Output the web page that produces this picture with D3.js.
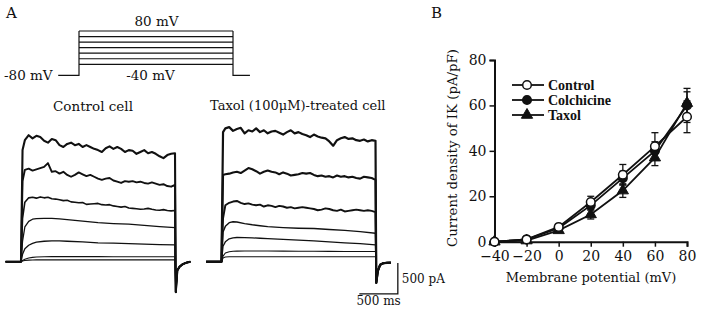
<!DOCTYPE html>
<html>
<head>
<meta charset="utf-8">
<script src="https://cdn.jsdelivr.net/npm/d3@7"></script>
<style>
  html, body { margin: 0; padding: 0; background: #fff; }
  svg text { font-family: "DejaVu Serif", serif; fill: #111; }
  svg text.legend { font-family: "Liberation Serif", "Times New Roman", serif; font-weight: bold; }
</style>
</head>
<body>
<svg id="fig" width="701" height="314"></svg>
<script>
// ---- panel A: voltage protocol ----
const STEP_MV = [-40, -20, 0, 20, 40, 60, 80];
const HOLD_MV = -80;

// ---- panel A: current traces (pA) ----
const T_FINE = [0, 20, 50, 100, 150, 200, 250, 300, 350, 400, 450, 500, 550, 600, 650, 700, 750, 800, 850, 900, 950,
  1000, 1050, 1100, 1150, 1200, 1250, 1300, 1350, 1400, 1450, 1500, 1550, 1600, 1650, 1700, 1750, 1800, 1850, 1900, 1950, 2000];
const T_COARSE = [0, 20, 50, 100, 150, 200, 300, 400, 500, 600, 800, 1000, 1200, 1400, 1600, 1800, 2000];

const CTRL_80 = [0, 1800, 1960, 2040, 1990, 2030, 2010, 1950, 1920, 1980, 1960, 1880, 1850, 1900, 1920, 1880, 1900, 1850, 1880, 1850, 1820,
  1800, 1770, 1830, 1860, 1820, 1850, 1820, 1770, 1800, 1790, 1740, 1770, 1800, 1750, 1770, 1740, 1700, 1670, 1720, 1740, 1750];
const CTRL_60 = [0, 1300, 1480, 1500, 1470, 1490, 1510, 1530, 1590, 1450, 1460, 1420, 1450, 1400, 1370, 1400, 1440, 1410, 1380, 1400, 1370,
  1340, 1320, 1340, 1350, 1310, 1290, 1270, 1300, 1290, 1300, 1280, 1290, 1270, 1260, 1280, 1260, 1240, 1250, 1220, 1210, 1240];
const CTRL_40 = [0, 700, 960, 1030, 1040, 1025, 1045, 1030, 1040, 1015, 1010, 1000, 985, 990, 965, 960, 950, 955, 925, 930, 935,
  940, 920, 915, 920, 900, 890, 880, 890, 865, 860, 855, 845, 850, 860, 845, 835, 830, 840, 825, 820, 825];
const CTRL_20 = [0, 330, 560, 650, 685, 695, 700, 700, 690, 680, 655, 630, 615, 605, 585, 565, 550];
const CTRL_0 = [0, 120, 210, 265, 295, 315, 330, 335, 335, 330, 320, 305, 300, 290, 285, 275, 270];
const CTRL_M20 = [0, 20, 40, 60, 70, 75, 80, 82, 82, 82, 82, 82, 80, 80, 80, 80, 80];
const CTRL_M40 = [0, 10, 20, 25, 28, 30, 30, 30, 30, 30, 30, 30, 30, 30, 30, 30, 30];

const TAX_80 = [0, 2090, 2150, 2170, 2110, 2140, 2160, 2070, 2120, 2100, 2150, 2090, 2120, 2070, 2100, 2110, 2080, 2050, 2090, 2120, 2070,
  2090, 2060, 2040, 2010, 2050, 2020, 2000, 1990, 1940, 1870, 1960, 1990, 2010, 1980, 1990, 1960, 1950, 1970, 1940, 1960, 1950];
const TAX_60 = [0, 1400, 1410, 1420, 1440, 1450, 1430, 1470, 1510, 1490, 1460, 1420, 1450, 1470, 1450, 1440, 1410, 1440, 1420, 1390, 1400,
  1410, 1430, 1420, 1430, 1400, 1380, 1390, 1370, 1380, 1360, 1390, 1370, 1380, 1360, 1370, 1350, 1340, 1370, 1360, 1350, 1320];
const TAX_40 = [0, 700, 910, 950, 970, 980, 950, 930, 940, 920, 910, 920, 890, 910, 900, 880, 900, 890, 870, 880, 860,
  870, 880, 870, 860, 850, 830, 840, 860, 850, 830, 820, 840, 810, 820, 830, 840, 830, 820, 830, 820, 800];
const TAX_20 = [0, 480, 570, 630, 645, 640, 615, 595, 580, 565, 550, 540, 535, 520, 505, 485, 460];
const TAX_0 = [0, 250, 320, 370, 385, 390, 388, 385, 378, 372, 360, 348, 335, 320, 305, 290, 270];
const TAX_M20 = [0, 90, 140, 160, 168, 170, 172, 172, 172, 172, 170, 168, 168, 166, 165, 165, 165];
const TAX_M40 = [0, 60, 75, 80, 80, 80, 80, 80, 80, 80, 80, 80, 80, 80, 80, 80, 80];

// tail currents after the step
const TAIL_T = [2010, 2030, 2060, 2100, 2150, 2200];
const CTRL_TAIL = [-490, -140, -80, -40, -15, 0];
const TAX_TAIL = [-340, -150, -50, -25, -18, -15];

// ---- panel B: I-V relation ----
const VM = [-40, -20, 0, 20, 40, 60, 80];
const CONTROL_MEAN = [0, 1, 6.5, 17.5, 29.5, 42, 55];
const CONTROL_SEM = [0, 0.5, 1, 2.5, 4.5, 6, 7];
const COLCH_MEAN = [0, 1, 6, 16, 28, 40, 60];
const COLCH_SEM = [0, 0.5, 1, 2, 3, 4, 7.5];
const TAXOL_MEAN = [0, 0.5, 5, 12, 22.5, 37, 61];
const TAXOL_SEM = [0, 0.5, 1, 2, 3, 3.5, 5];
const Y_TICKS = [0, 20, 40, 60, 80];
const X_TICKS = [-40, -20, 0, 20, 40, 60, 80];

const svg = d3.select('#fig');
svg.append('rect').attr('width', 701).attr('height', 314).attr('fill', '#fff');

// panel letters
svg.append('text').attr('x', 6).attr('y', 18).style('font-size', '15px').text('A');
svg.append('text').attr('x', 431).attr('y', 18).style('font-size', '15px').text('B');

// ---------- protocol ----------
const px = d3.scaleLinear().domain([0, 2000]).range([79, 233]);
const pv = d3.scaleLinear().domain([-40, 80]).range([64.3, 31]);
const proto = svg.append('g').attr('stroke', '#111').attr('fill', 'none').attr('stroke-width', 1.2);
STEP_MV.forEach(v => {
  proto.append('line').attr('x1', px(0)).attr('x2', px(2000)).attr('y1', pv(v)).attr('y2', pv(v));
});
proto.append('path').attr('d', d3.line()([
  [px(-270), pv(HOLD_MV)], [px(0), pv(HOLD_MV)], [px(0), pv(80)]
]));
proto.append('path').attr('d', d3.line()([
  [px(2000), pv(80)], [px(2000), pv(HOLD_MV)], [px(2220), pv(HOLD_MV)]
]));
svg.append('text').attr('x', 156.5).attr('y', 26).attr('text-anchor', 'middle').style('font-size', '13.5px').text('80 mV');
svg.append('text').attr('x', 4).attr('y', 80).style('font-size', '13.5px').text('-80 mV');
svg.append('text').attr('x', 150.5).attr('y', 80).attr('text-anchor', 'middle').style('font-size', '13.5px').text('-40 mV');

// ---------- traces ----------
function drawCell(x0, traces, tail) {
  const tx = d3.scaleLinear().domain([0, 2000]).range([x0, x0 + 154]);
  const ty = d3.scaleLinear().domain([0, 2000]).range([261.7, 137.7]);
  const line = d3.line().x(d => tx(d[0])).y(d => ty(d[1]));
  const g = svg.append('g').attr('fill', 'none').attr('stroke', '#111').attr('stroke-linejoin', 'round');
  traces.forEach(tr => {
    const pts = [[-200, 0]];
    tr.t.forEach((t, i) => pts.push([t, tr.v[i]]));
    TAIL_T.forEach((t, i) => pts.push([t, tail[i]]));
    g.append('path').attr('d', line(pts)).attr('stroke-width', tr.w);
  });
  return { tx, ty };
}

const ctrl = drawCell(21, [
  { t: T_COARSE, v: CTRL_M40, w: 1.1 },
  { t: T_COARSE, v: CTRL_M20, w: 1.1 },
  { t: T_COARSE, v: CTRL_0, w: 1.3 },
  { t: T_COARSE, v: CTRL_20, w: 1.3 },
  { t: T_FINE, v: CTRL_40, w: 1.6 },
  { t: T_FINE, v: CTRL_60, w: 1.9 },
  { t: T_FINE, v: CTRL_80, w: 2.1 }
], CTRL_TAIL);

const tax = drawCell(221.5, [
  { t: T_COARSE, v: TAX_M40, w: 1.1 },
  { t: T_COARSE, v: TAX_M20, w: 1.1 },
  { t: T_COARSE, v: TAX_0, w: 1.3 },
  { t: T_COARSE, v: TAX_20, w: 1.4 },
  { t: T_FINE, v: TAX_40, w: 1.9 },
  { t: T_FINE, v: TAX_60, w: 2.1 },
  { t: T_FINE, v: TAX_80, w: 2.2 }
], TAX_TAIL);

svg.append('text').attr('x', 93).attr('y', 111).attr('text-anchor', 'middle').style('font-size', '13.5px').text('Control cell');
svg.append('text').attr('x', 210).attr('y', 110).style('font-size', '13px').text('Taxol (100μM)-treated cell');

// scale bar: 500 pA / 500 ms, drawn with the taxol panel scales
const sbX = tax.tx(2290);
const bar = svg.append('g').attr('stroke', '#111').attr('stroke-width', 1.3).attr('fill', 'none');
bar.append('path').attr('d', d3.line()([
  [sbX, tax.ty(-20)], [sbX, tax.ty(-520)], [tax.tx(1790), tax.ty(-520)]
]));
svg.append('text').attr('x', sbX + 4).attr('y', 283).style('font-size', '12px').text('500 pA');
svg.append('text').attr('x', (sbX + tax.tx(1790)) / 2).attr('y', 305).attr('text-anchor', 'middle').style('font-size', '12px').text('500 ms');

// ---------- panel B ----------
const x = d3.scaleLinear().domain([-40, 80]).range([494.5, 687]);
const y = d3.scaleLinear().domain([0, 80]).range([241.7, 60]);

const axes = svg.append('g');
const yAxis = axes.append('g').attr('transform', 'translate(494.5,0)')
  .call(d3.axisLeft(y).tickValues(Y_TICKS).tickSize(5).tickPadding(3));
const xAxis = axes.append('g').attr('transform', 'translate(0,241.7)')
  .call(d3.axisBottom(x).tickValues(X_TICKS).tickSize(5).tickPadding(4));
[yAxis, xAxis].forEach(a => {
  a.select('.domain').attr('stroke', '#111').attr('stroke-width', 2);
  a.selectAll('.tick line').attr('stroke', '#111').attr('stroke-width', 1.5);
  a.selectAll('.tick text').style('font-family', '"DejaVu Serif", serif').style('font-size', '14px').attr('fill', '#111');
});

svg.append('text').attr('x', 591).attr('y', 282).attr('text-anchor', 'middle').style('font-size', '13px')
  .text('Membrane potential (mV)');
svg.append('text').attr('transform', 'translate(457,148) rotate(-90)').attr('text-anchor', 'middle').style('font-size', '13.3px')
  .text('Current density of IK (pA/pF)');

const series = [
  { name: 'Taxol', mean: TAXOL_MEAN, sem: TAXOL_SEM, shape: 'tri', fill: '#111' },
  { name: 'Colchicine', mean: COLCH_MEAN, sem: COLCH_SEM, shape: 'circ', fill: '#111' },
  { name: 'Control', mean: CONTROL_MEAN, sem: CONTROL_SEM, shape: 'circ', fill: '#fff' }
];
const triangle = d3.symbol().type(d3.symbolTriangle).size(55);

function marker(g, s, cx, cy) {
  if (s.shape === 'tri') {
    g.append('path').attr('d', triangle()).attr('transform', `translate(${cx},${cy})`)
      .attr('fill', s.fill).attr('stroke', '#111').attr('stroke-width', 1);
  } else {
    g.append('circle').attr('cx', cx).attr('cy', cy).attr('r', 4.3)
      .attr('fill', s.fill).attr('stroke', '#111').attr('stroke-width', 1.5);
  }
}

const plot = svg.append('g');
// error bars first
series.forEach(s => {
  VM.forEach((v, i) => {
    if (s.sem[i] < 1.5) return;
    const cx = x(v);
    const eg = plot.append('g').attr('stroke', '#111').attr('stroke-width', 1.3);
    eg.append('line').attr('x1', cx).attr('x2', cx).attr('y1', y(s.mean[i] - s.sem[i])).attr('y2', y(s.mean[i] + s.sem[i]));
    [s.mean[i] - s.sem[i], s.mean[i] + s.sem[i]].forEach(e => {
      eg.append('line').attr('x1', cx - 3.5).attr('x2', cx + 3.5).attr('y1', y(e)).attr('y2', y(e));
    });
  });
});
series.forEach(s => {
  const pts = VM.map((v, i) => [x(v), y(s.mean[i])]);
  plot.append('path').attr('d', d3.line()(pts)).attr('fill', 'none').attr('stroke', '#111').attr('stroke-width', 1.8);
  pts.forEach(p => marker(plot, s, p[0], p[1]));
});

// legend
const legendRows = ['Control', 'Colchicine', 'Taxol'];
legendRows.forEach((name, i) => {
  const s = series.find(d => d.name === name);
  const ly = 85 + i * 15;
  const lg = svg.append('g');
  lg.append('line').attr('x1', 512).attr('x2', 544).attr('y1', ly).attr('y2', ly)
    .attr('stroke', '#111').attr('stroke-width', 1.8);
  marker(lg, s, 527, ly);
  lg.append('text').attr('class', 'legend').attr('x', 548).attr('y', ly + 4.5).style('font-size', '14px').text(name);
});
</script>
</body>
</html>
